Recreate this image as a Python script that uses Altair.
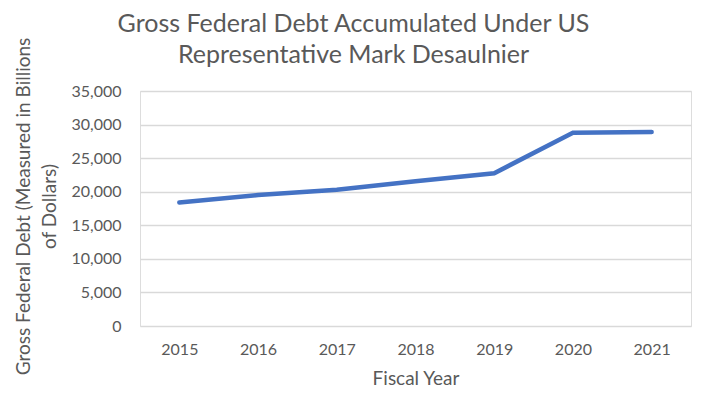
import altair as alt
import pandas as pd

years = ["2015", "2016", "2017", "2018", "2019", "2020", "2021"]
debt = [18400, 19500, 20300, 21550, 22750, 28800, 28900]
y_ticks = [0, 5000, 10000, 15000, 20000, 25000, 30000, 35000]

df = pd.DataFrame({"year": years, "debt": debt})

FONT = "Lato"
GRAY = "#595959"

chart = (
    alt.Chart(df)
    .mark_line(color="#4472C4", strokeWidth=4.5, strokeCap="round")
    .encode(
        x=alt.X(
            "year:O",
            sort=years,
            scale=alt.Scale(padding=0.5),
            axis=alt.Axis(
                title="Fiscal Year",
                labelAngle=0,
                labelFont=FONT,
                labelFontSize=16,
                labelColor=GRAY,
                labelPadding=15,
                titleFont=FONT,
                titleFontSize=19,
                titleFontWeight="normal",
                titleColor=GRAY,
                titlePadding=12,
                domain=False,
                ticks=False,
                grid=False,
            ),
        ),
        y=alt.Y(
            "debt:Q",
            scale=alt.Scale(domain=[0, 35000], nice=False),
            axis=alt.Axis(
                title=["Gross Federal Debt (Measured in Billions", "of Dollars)"],
                values=y_ticks,
                format=",.0f",
                labelFont=FONT,
                labelFontSize=16,
                labelColor=GRAY,
                labelPadding=19,
                titleFont=FONT,
                titleFontSize=19,
                titleFontWeight="normal",
                titleColor=GRAY,
                titleLineHeight=26,
                titleX=-126,
                titleY=115,
                titleBaseline="top",
                titleAlign="center",
                domain=False,
                ticks=False,
                grid=True,
                gridColor="#d9d9d9",
                gridWidth=1.3,
            ),
        ),
    )
    .properties(
        width=551,
        height=235,
        autosize=alt.AutoSizeParams(type="none"),
        padding={"left": 132, "top": 83, "right": 12, "bottom": 62},
        title=alt.TitleParams(
            text=["Gross Federal Debt Accumulated Under US", "Representative Mark Desaulnier"],
            font=FONT,
            fontSize=25,
            fontWeight="normal",
            color=GRAY,
            lineHeight=31,
            anchor="middle",
            frame="group",
            dx=-62,
            offset=-31,
        ),
    )
    .configure_view(strokeWidth=0, stroke="transparent")
    .configure(background="white")
)

chart.save("out.html", embed_options={"renderer": "svg", "actions": False})
